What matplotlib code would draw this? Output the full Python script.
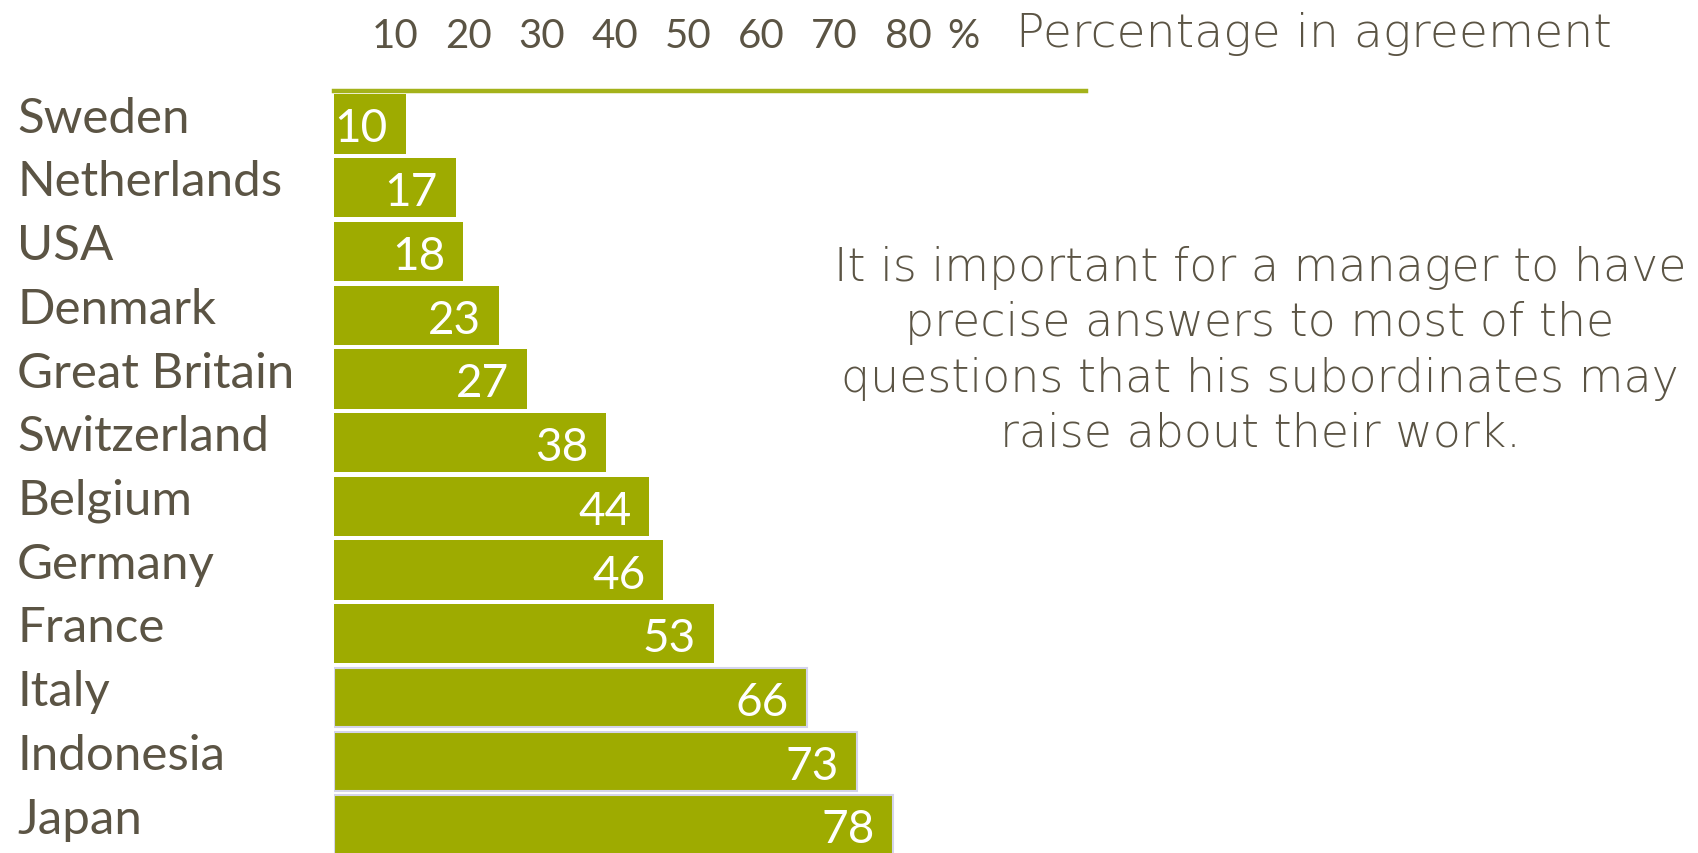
import matplotlib
matplotlib.use('Agg')
import matplotlib.pyplot as plt
from matplotlib.transforms import blended_transform_factory

# data
countries = ['Sweden', 'Netherlands', 'USA', 'Denmark', 'Great Britain', 'Switzerland',
             'Belgium', 'Germany', 'France', 'Italy', 'Indonesia', 'Japan']
agree = [10, 17, 18, 23, 27, 38, 44, 46, 53, 66, 73, 78]
top_ticks = [10, 20, 30, 40, 50, 60, 70, 80]
outlined = ['Italy', 'Indonesia', 'Japan']

statement = ('It is important for a manager to have\n'
             'precise answers to most of the\n'
             'questions that his subordinates may\n'
             'raise about their work.')

GREEN = '#9eab00'
TEXT = '#5b5444'

W, H = 1698, 854
fig = plt.figure(figsize=(W / 100, H / 100), dpi=100)
fig.patch.set_facecolor('white')

# bar axes: left edge of bars at x=334px, green line at y=92px
ax = fig.add_axes([334 / W, 0, (1086 - 334) / W, (H - 92) / H])
ax.set_xlim(0, 105)
ax.set_ylim(11.44, -0.518)

edges = ['#d4d4ea' if c in outlined else 'none' for c in countries]
ax.barh(range(len(countries)), agree, height=0.93, color=GREEN,
        edgecolor=edges, linewidth=1.5)

for i, v in enumerate(agree):
    ax.text(v - 2.5, i + 0.07, str(v), ha='right', va='center', color='white',
            fontsize=33, family='Lato')

for s in ['left', 'right', 'bottom']:
    ax.spines[s].set_visible(False)
ax.spines['top'].set_color('#a4b21a')
ax.spines['top'].set_linewidth(3.2)
ax.set_xticks([])
ax.set_yticks([])

# country names, left aligned at the slide margin
lab_tr = blended_transform_factory(fig.transFigure, ax.transData)
for i, c in enumerate(countries):
    ax.text(17 / W, i - 0.1, c, transform=lab_tr, ha='left', va='center',
            fontsize=35.5, family='Lato', color=TEXT)

# the top scale labels (slightly different spacing from the bars)
ax2 = ax.twiny()
ax2.set_xlim(1.68, 104.3)
ax2.set_xticks(top_ticks)
ax2.set_xticklabels([str(t) for t in top_ticks], family='Lato', fontsize=29, color=TEXT)
pad_pt = 27
ax2.tick_params(axis='x', length=0, pad=pad_pt)
for s in ax2.spines.values():
    s.set_visible(False)
ax2.text(87.6, 1 + pad_pt * 100 / 72 / (H - 92), '%', transform=ax2.get_xaxis_transform(),
         ha='center', va='bottom', family='Lato', fontsize=29, color=TEXT)

fig.text(1016 / W, 1 - 47 / H, 'Percentage in agreement', ha='left', va='baseline',
         fontsize=34, family='DejaVu Sans', weight='light', color=TEXT)

fig.text(1260 / W, 1 - 351 / H, statement, ha='center', va='center', multialignment='center',
         fontsize=33, family='DejaVu Sans', weight='light', color=TEXT, linespacing=1.32)

fig.savefig('out.png', dpi=100, facecolor='white')
